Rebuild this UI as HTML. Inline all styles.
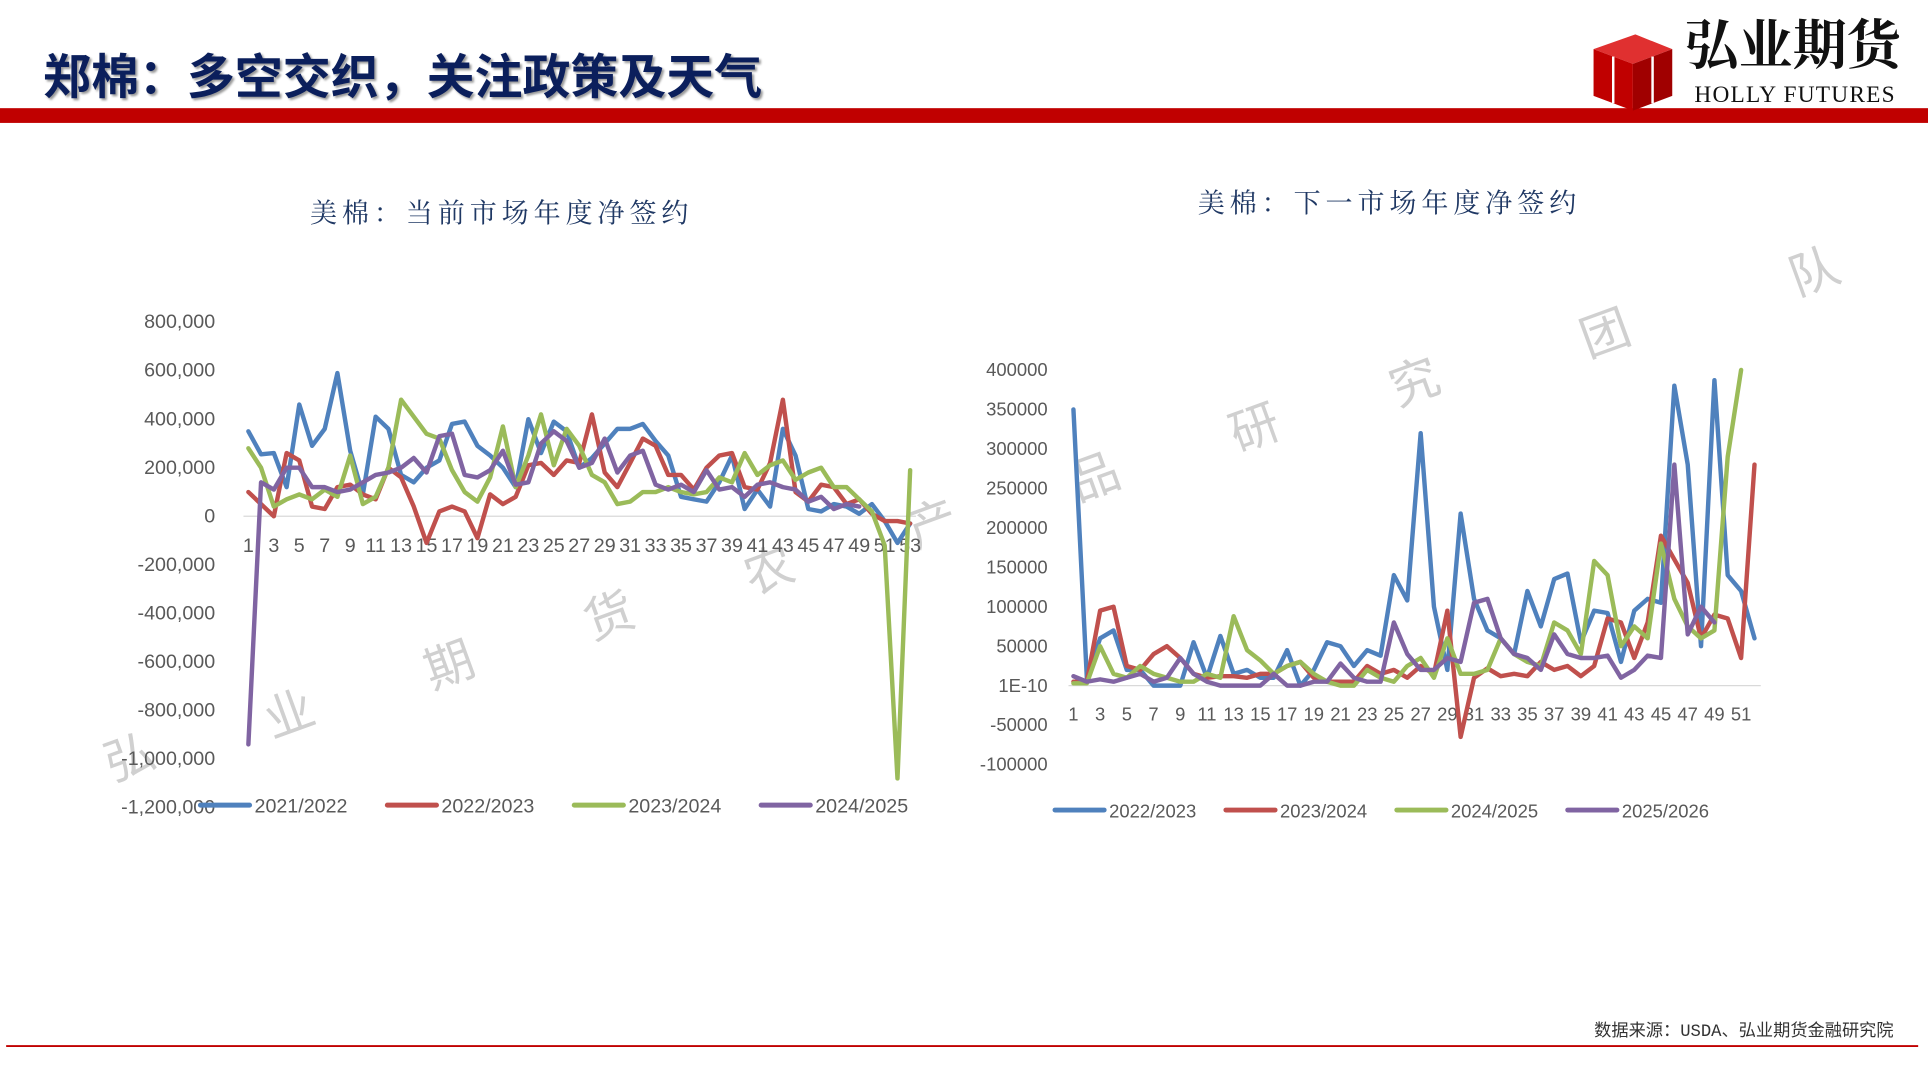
<!DOCTYPE html>
<html><head><meta charset="utf-8">
<style>
html,body{margin:0;padding:0;background:#fff;}
svg{display:block;}
text{font-family:"Liberation Sans","Noto Sans CJK SC",sans-serif;}
</style></head>
<body>
<svg id="main" width="1928" height="1078" viewBox="0 0 1568 877" preserveAspectRatio="none" xmlns="http://www.w3.org/2000/svg">
  <text x="35" y="76" font-size="39" font-weight="bold" fill="#0b1f5c" style="font-family:'Noto Sans CJK SC',sans-serif;text-shadow:2px 2px 2px #999">郑棉：多空交织，关注政策及天气</text>
  <rect x="0" y="88" width="1568" height="12" fill="#c00000"/>
  <g>
    <polygon points="1296,40 1330,28 1360,40 1328,52" fill="#e03030"/>
    <polygon points="1296,40 1328,52 1328,90 1296,78" fill="#c00000"/>
    <polygon points="1328,52 1360,40 1360,78 1328,90" fill="#a00000"/>
    <line x1="1312" y1="46" x2="1312" y2="84" stroke="#fff" stroke-width="2"/>
    <line x1="1344" y1="46" x2="1344" y2="84" stroke="#fff" stroke-width="2"/>
    <text x="1370" y="52" font-size="44" font-weight="bold" fill="#111" style="font-family:'Noto Serif CJK SC',serif">弘业期货</text>
    <text x="1378" y="83" font-size="19" fill="#111" style="font-family:'Liberation Serif',serif" letter-spacing="1">HOLLY FUTURES</text>
  </g>
  <g fill="#d0d0d0" font-size="40" style="font-family:'Noto Sans CJK SC',sans-serif">
    <text x="85" y="630" transform="rotate(-20 105 615)">弘</text>
    <text x="215" y="595" transform="rotate(-20 235 580)">业</text>
    <text x="345" y="555" transform="rotate(-20 365 540)">期</text>
    <text x="475" y="515" transform="rotate(-20 495 500)">货</text>
    <text x="605" y="478" transform="rotate(-20 625 463)">农</text>
    <text x="738" y="440" transform="rotate(-20 758 425)">产</text>
    <text x="870" y="402" transform="rotate(-20 890 387)">品</text>
    <text x="1000" y="362" transform="rotate(-20 1020 347)">研</text>
    <text x="1130" y="325" transform="rotate(-20 1150 310)">究</text>
    <text x="1285" y="285" transform="rotate(-20 1305 270)">团</text>
    <text x="1455" y="235" transform="rotate(-20 1475 220)">队</text>
  </g>
  <text x="408" y="181" text-anchor="middle" font-size="22" fill="#1f3864" letter-spacing="4" style="font-family:'Noto Serif CJK SC',serif">美棉：当前市场年度净签约</text>
  <text x="1130" y="173" text-anchor="middle" font-size="22" fill="#1f3864" letter-spacing="4" style="font-family:'Noto Serif CJK SC',serif">美棉：下一市场年度净签约</text>
  <g id="left"></g>
  <g id="right"></g>
  <line x1="5" y1="851" x2="1560" y2="851" stroke="#c00000" stroke-width="1.5"/>
  <text x="1540" y="843" text-anchor="end" font-size="14" fill="#333" style="font-family:'Liberation Mono','Noto Sans CJK SC',monospace">数据来源：USDA、弘业期货金融研究院</text>
</svg>
<script>
const COLORS=["#4f81bd","#c0504d","#9bbb59","#8064a2"];
const leftSeriesNames=["2021/2022","2022/2023","2023/2024","2024/2025"];
const leftTicks=[800000,600000,400000,200000,0,-200000,-400000,-600000,-800000,-1000000,-1200000];
const leftS1=[350,255,260,120,460,290,360,590,270,90,410,360,170,140,200,230,380,390,290,250,200,120,400,260,390,350,200,240,300,360,360,380,310,250,80,70,60,140,250,30,110,40,360,250,30,20,50,40,10,50,-20,-110,-30];
const leftS2=[100,50,0,260,230,40,30,120,130,90,70,200,160,40,-110,20,40,20,-90,90,50,80,210,220,170,230,220,420,180,120,220,320,290,170,170,110,200,250,260,120,110,220,480,100,60,130,120,50,70,10,-20,-20,-30];
const leftS3=[280,200,40,70,90,70,110,80,250,50,80,200,480,410,340,320,190,100,60,160,370,120,250,420,210,360,290,170,140,50,60,100,100,120,100,90,100,160,140,260,170,210,230,150,180,200,120,120,70,20,-120,-1080,190];
const leftS4=[-940,140,110,200,200,120,120,100,110,140,170,180,200,240,180,330,340,170,160,190,270,130,140,300,350,310,200,220,320,180,250,270,130,110,130,100,190,110,120,80,130,140,120,110,60,80,30,50,40];
const rightSeriesNames=["2022/2023","2023/2024","2024/2025","2025/2026"];
const rightTicks=["400000","350000","300000","250000","200000","150000","100000","50000","1E-10","-50000","-100000"];
const rightS1=[350,10,60,70,20,20,0,0,0,55,10,63,15,20,10,10,45,0,20,55,50,25,45,38,140,108,320,100,20,218,110,70,60,40,120,75,135,142,55,95,92,30,95,110,105,380,280,50,387,140,120,60];
const rightS2=[5,5,95,100,25,20,40,50,35,15,10,12,12,10,15,15,25,30,10,5,5,5,25,15,20,10,25,15,95,-65,10,22,12,15,12,30,20,25,12,25,85,80,35,80,190,160,130,60,90,85,35,280];
const rightS3=[3,3,50,15,10,25,15,10,5,5,15,10,88,45,32,15,25,30,15,5,0,0,20,10,5,25,35,10,60,15,15,20,60,40,30,25,80,70,40,158,140,50,75,60,180,110,75,60,70,290,400];
const rightS4=[12,5,8,5,10,15,5,10,35,15,5,0,0,0,0,15,0,0,5,5,28,10,5,5,80,40,20,20,35,30,105,110,60,40,35,20,65,40,35,35,38,10,20,38,35,280,65,100,80];

const NS="http://www.w3.org/2000/svg";
function mk(parent,tag,attrs){const e=document.createElementNS(NS,tag);for(const k in attrs)e.setAttribute(k,attrs[k]);parent.appendChild(e);return e;}

function drawChart(g,cfg){
  const yS=v=>cfg.y0+(cfg.top-v)*cfg.yPx;
  const xS=i=>cfg.x0+i*cfg.xStep;
  cfg.ticks.forEach((t,i)=>{
    const tv=cfg.top-i*cfg.tickStep;
    const tx=mk(g,'text',{x:cfg.labelX,y:yS(tv)+5,'text-anchor':'end','font-size':cfg.fs,fill:'#595959'});
    tx.textContent=typeof t==='number'?t.toLocaleString('en-US'):t;
    
    
  });
  const ax=mk(g,'line',{x1:cfg.x0-4,x2:cfg.axEnd,y1:yS(0),y2:yS(0),stroke:'#d9d9d9','stroke-width':1});
  
  
  for(let i=0;i<cfg.nCat;i+=2){
    const tx=mk(g,'text',{x:xS(i),y:cfg.xLabY,'text-anchor':'middle','font-size':cfg.fs,fill:'#595959'});
    tx.textContent=String(i+1);
    
    
  }
  cfg.series.forEach((s,k)=>{
    const pts=s.map((v,i)=>xS(i).toFixed(1)+','+yS(v*1000).toFixed(1)).join(' ');
    const pl=mk(g,'polyline',{points:pts,fill:'none',stroke:COLORS[k],'stroke-width':3.6,'stroke-linejoin':'round','stroke-linecap':'round'});
    
    
  });
  cfg.names.forEach((n,k)=>{
    const lx=cfg.legX+k*cfg.legStep;
    const ln=mk(g,'line',{x1:lx,x2:lx+40,y1:cfg.legY,y2:cfg.legY,stroke:COLORS[k],'stroke-width':4,'stroke-linecap':'round'});
    
    
    const tx=mk(g,'text',{x:lx+44,y:cfg.legY+6,'font-size':cfg.legFs,fill:'#595959'});
    tx.textContent=n;
    
    
  });
}
drawChart(document.getElementById('left'),{
  y0:262,top:800000,yPx:39.5/200000,tickStep:200000,ticks:leftTicks,labelX:175,fs:16,
  x0:202,xStep:10.35,nCat:53,axEnd:745,xLabY:449,series:[leftS1,leftS2,leftS3,leftS4],names:leftSeriesNames,
  legX:163,legStep:152,legY:655,legFs:16
});
drawChart(document.getElementById('right'),{
  y0:301,top:400000,yPx:32.1/50000,tickStep:50000,ticks:rightTicks,labelX:852,fs:15,
  x0:873,xStep:10.86,nCat:52,axEnd:1432,xLabY:586,series:[rightS1,rightS2,rightS3,rightS4],names:rightSeriesNames,
  legX:858,legStep:139,legY:659,legFs:15
});
</script>
</body></html>
